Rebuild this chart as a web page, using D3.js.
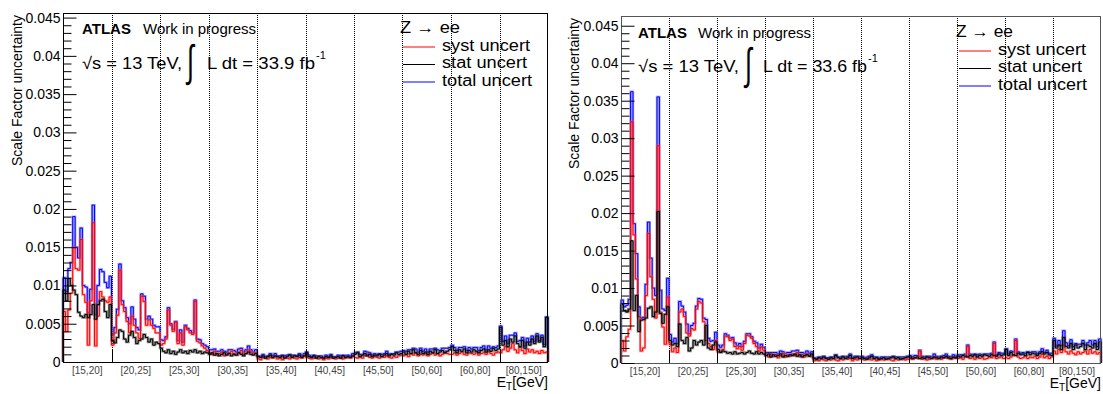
<!DOCTYPE html>
<html><head><meta charset="utf-8">
<script src="https://cdn.jsdelivr.net/npm/d3@7"></script>
<style>
body{margin:0;background:#fff}
svg{display:block}
text{font-family:"Liberation Sans",Arial,Helvetica,sans-serif}
</style>
</head><body>
<svg id="c" width="1103" height="394"></svg>
<script>
// ---------------- DATA ----------------
const UNIT = 1e-4; // values below are in units of 1e-4
const etBins = ["[15,20]","[20,25]","[25,30]","[30,35]","[35,40]","[40,45]","[45,50]","[50,60]","[60,80]","[80,150]"];
const etaBinsPerEt = 20;
const yTicks = [0,0.005,0.01,0.015,0.02,0.025,0.03,0.035,0.04,0.045];
const yTickLabels = ["0","0.005","0.01","0.015","0.02","0.025","0.03","0.035","0.04","0.045"];
const legendLabels = ["syst uncert","stat uncert","total uncert"];
const lumis = ["33.9","33.6"];

const leftSyst = [
 66,40,68,90,150,122,120,160,88,78,22,80,182,21,60,92,85,80,78,85,
 22,38,61,120,75,66,53,38,60,48,38,31,86,79,48,55,48,44,38,38,
 22,24,30,68,48,40,52,24,38,22,46,42,38,36,79,27,25,21,18,15,
 12,10,14,9,11,13,8,10,12,14,11,9,12,15,10,11,16,13,10,12,
 4,3,6,5,4,6,5,7,4,5,3,6,5,4,7,5,4,6,5,8,
 6,5,4,5,6,4,5,3,5,4,6,5,4,5,6,4,5,6,5,7,
 6,5,7,5,8,10,6,5,7,6,5,7,6,8,6,5,7,6,8,9,
 8,10,7,11,9,12,8,10,9,11,8,10,12,9,11,8,10,13,11,10,
 10,12,9,11,13,10,9,12,11,10,13,9,11,12,10,14,11,9,12,13,
 12,16,20,14,18,24,16,12,19,15,11,17,13,16,12,14,11,15,12,13];
const leftStat = [
 94,80,109,100,94,88,65,60,58,62,58,62,75,56,75,80,82,66,58,75,
 28,25,32,42,40,30,26,35,40,32,24,28,30,36,32,26,30,22,26,24,
 18,14,12,16,11,14,10,13,16,12,14,11,15,13,16,12,14,11,13,12,
 10,12,9,11,8,10,12,9,11,8,10,9,12,10,8,11,13,10,9,11,
 7,6,8,5,7,9,6,8,7,6,8,5,7,9,6,8,7,9,6,8,
 12,7,6,8,5,7,6,5,7,6,8,5,6,7,5,8,6,7,6,8,
 10,12,7,9,11,8,10,7,9,8,10,7,9,11,8,10,9,12,10,11,
 13,10,14,11,16,12,10,15,11,13,10,14,12,16,11,13,15,12,14,16,
 20,15,12,16,14,17,12,15,13,16,14,12,15,17,13,16,14,18,15,17,
 45,22,28,20,30,26,34,24,20,28,18,26,22,30,24,34,26,32,20,58];
const leftTotal = [
 110,92,122,130,190,150,136,175,100,98,65,95,205,62,100,121,118,104,97,112,
 36,45,69,128,80,71,58,50,72,56,45,42,89,86,56,60,56,48,46,46,
 29,28,33,71,50,43,53,28,42,26,48,44,41,38,81,30,29,24,22,20,
 16,16,17,14,14,16,14,13,16,16,15,13,17,18,13,16,21,16,13,16,
 8,7,10,7,8,11,8,11,8,8,9,8,9,10,9,9,8,11,8,11,
 13,9,7,9,8,8,8,6,9,7,10,7,7,9,8,9,8,9,8,11,
 12,13,10,10,14,13,12,9,11,10,11,10,11,14,10,11,11,13,13,14,
 15,14,16,16,18,17,13,18,14,17,13,17,17,18,16,15,18,18,18,19,
 22,19,15,19,19,20,15,19,17,19,19,15,19,21,16,21,18,20,19,21,
 47,27,34,24,35,35,38,27,28,32,21,31,26,34,27,37,28,35,23,59];

const rightSyst = [
 30,16,35,45,322,171,112,62,16,20,90,173,115,85,60,290,68,48,25,88,
 25,15,20,14,68,72,62,40,36,46,44,72,82,80,55,30,26,22,18,30,
 15,15,18,36,35,30,32,22,19,22,17,26,37,36,33,26,22,16,21,17,
 10,8,12,9,11,7,10,13,8,11,9,12,10,14,9,11,8,12,10,9,
 3,4,3,5,4,3,5,4,6,4,3,5,4,6,5,6,3,5,4,6,
 5,4,6,5,4,5,3,4,5,4,6,5,4,3,5,4,6,5,4,5,
 6,5,7,6,16,5,6,4,5,6,8,5,6,5,7,8,6,5,7,6,
 6,7,5,8,22,6,7,5,8,6,7,5,6,8,7,26,6,7,8,6,
 7,6,8,10,30,8,6,7,9,6,8,7,9,6,8,12,7,9,6,8,
 16,12,18,14,24,15,12,16,13,11,15,12,14,16,12,18,13,15,12,14];
const rightStat = [
 78,70,68,72,163,70,90,42,57,58,60,73,75,62,68,202,66,53,65,75,
 30,24,26,22,52,30,26,34,16,20,30,24,28,30,24,50,20,18,24,28,
 18,14,16,15,13,14,12,15,12,13,14,12,14,16,13,12,15,12,14,12,
 10,12,8,11,9,10,12,8,10,9,11,10,12,9,11,8,10,11,9,12,
 6,5,7,6,8,6,5,7,6,10,7,6,8,6,7,10,6,7,8,6,
 7,6,5,7,9,6,7,5,6,7,5,6,7,8,6,7,5,6,7,8,
 8,6,7,8,6,7,6,8,7,6,8,7,6,8,7,9,7,6,8,7,
 9,8,10,9,8,10,9,11,8,10,9,11,10,9,11,10,9,12,10,11,
 18,10,14,11,10,13,11,12,10,14,11,13,12,10,13,15,12,14,11,10,
 30,20,24,18,34,22,20,26,18,24,20,22,26,18,24,22,20,26,18,28];
const rightTotal = [
 84,75,77,85,362,186,146,75,60,61,105,188,140,100,90,355,97,72,70,113,
 38,28,33,26,82,76,68,52,39,50,53,76,86,85,60,58,33,29,30,41,
 24,21,24,39,37,33,34,27,23,26,22,29,39,39,35,29,27,20,25,21,
 14,14,14,14,14,12,16,15,13,14,14,16,16,17,14,14,13,16,13,15,
 7,6,8,8,9,7,7,8,8,11,8,8,9,8,9,12,7,9,9,8,
 9,7,8,9,11,8,8,6,8,8,8,8,8,9,8,8,8,8,8,9,
 10,8,10,10,17,9,8,9,9,8,12,9,8,9,10,12,9,8,11,9,
 11,11,11,12,24,12,11,12,11,12,11,12,12,12,13,28,11,14,13,13,
 19,12,16,15,32,15,13,14,13,15,14,15,15,12,15,19,14,17,13,13,
 33,23,30,23,43,27,23,31,22,26,25,25,30,24,27,30,24,30,22,32];

// ---------------- DRAW ----------------
const svg = d3.select("#c");

function drawPanel(c){
  const n = c.syst.length;
  const x = d3.scaleLinear().domain([0, n]).range([c.x0, c.x1]);
  const y = d3.scaleLinear().domain([0, c.yMax]).range([c.yB, c.yT]);
  const g = svg.append("g");
  const bounds = d3.range(1, etBins.length).map(k => k * etaBinsPerEt);

  // dotted separators
  g.selectAll("line.sep").data(bounds).join("line")
    .attr("x1", d => Math.round(x(d)) + 0.5).attr("x2", d => Math.round(x(d)) + 0.5)
    .attr("y1", c.yT).attr("y2", c.yB)
    .attr("stroke", "#000").attr("stroke-width", 1).attr("stroke-dasharray", "1,1");

  // histograms
  const step = vals => {
    const pts = [[0, 0]];
    vals.forEach((v, i) => pts.push([i, v * UNIT]));
    pts.push([n, vals[n - 1] * UNIT]);
    pts.push([n, 0]);
    return d3.line().x(p => x(p[0])).y(p => y(p[1])).curve(d3.curveStepAfter)(pts);
  };
  const series = [
    {vals: c.total, col: "#0000ff", under: "#4d4dff"},
    {vals: c.syst,  col: "#ff0000", under: "#ff4d4d"},
    {vals: c.stat,  col: "#000000", under: "#333333"}
  ];
  series.forEach(s => {
    g.append("path").attr("d", step(s.vals)).attr("fill", "none")
      .attr("stroke", s.under).attr("stroke-width", 2.4).attr("stroke-opacity", 0.55);
    g.append("path").attr("d", step(s.vals)).attr("fill", "none")
      .attr("stroke", s.col).attr("stroke-width", 1);
  });

  // frame
  g.append("rect").attr("x", c.x0 + 0.5).attr("y", c.yT + 0.5)
    .attr("width", c.x1 - c.x0 - 1).attr("height", c.yB - c.yT)
    .attr("fill", "none").attr("stroke", c.frame).attr("stroke-width", 1)
    .attr("shape-rendering", "crispEdges");

  // x ticks at ET group boundaries
  g.selectAll("line.xt").data(bounds).join("line")
    .attr("x1", d => Math.round(x(d)) + 0.5).attr("x2", d => Math.round(x(d)) + 0.5)
    .attr("y1", c.yB).attr("y2", c.yB - 13)
    .attr("stroke", "#000").attr("stroke-width", 1);

  // x labels
  g.selectAll("text.xl").data(etBins).join("text")
    .attr("x", (d, i) => x((i + 0.5) * etaBinsPerEt)).attr("y", c.yB + 12)
    .attr("text-anchor", "middle").attr("font-size", 10).attr("fill", "#444")
    .text(d => d);

  // y axis major/minor
  const minor = d3.range(0, 46).filter(k => k % 5 !== 0).map(k => k * 0.001);
  const ax = g.append("g").attr("transform", `translate(${c.x0 + 0.5},0)`)
    .call(d3.axisLeft(y).tickValues(yTicks).tickFormat((d, i) => yTickLabels[i]).tickSize(-13).tickPadding(3));
  ax.select(".domain").remove();
  ax.selectAll("text").attr("font-size", 14).attr("font-family", "Liberation Sans, Arial, sans-serif").attr("fill", "#000");
  const axm = g.append("g").attr("transform", `translate(${c.x0 + 0.5},0)`)
    .call(d3.axisLeft(y).tickValues(minor).tickFormat("").tickSize(-8));
  axm.select(".domain").remove();

  // y title
  g.append("text").attr("transform", `translate(${c.ytX},${c.yT + 2}) rotate(-90)`)
    .attr("text-anchor", "end").attr("font-size", 14).text("Scale Factor uncertainty");

  // x title
  const xt = g.append("text").attr("x", c.x1).attr("y", c.yB + 25).attr("text-anchor", "end").attr("font-size", 14);
  xt.append("tspan").text("E");
  xt.append("tspan").attr("font-size", 10).attr("dy", 3).text("T");
  xt.append("tspan").attr("dy", -3).text("[GeV]");

  // ATLAS label
  g.append("text").attr("x", c.ax).attr("y", c.ay).attr("font-size", 15).attr("font-weight", "bold").text("ATLAS");
  g.append("text").attr("x", c.ax + c.workDx).attr("y", c.ay).attr("font-size", 15).text("Work in progress");

  // sqrt(s), integral L dt
  g.append("text").attr("x", c.ax).attr("y", c.ly).attr("font-size", 17)
    .attr("textLength", c.t1w).attr("lengthAdjust", "spacingAndGlyphs").text("√s = 13 TeV,");
  g.append("text").attr("transform", `translate(${c.intX},${c.ly + 7}) scale(0.6,1.05)`)
    .attr("font-size", 42).attr("font-family", "Liberation Sans").text("∫");
  g.append("text").attr("x", c.t2x).attr("y", c.ly).attr("font-size", 17)
    .attr("textLength", c.t2w).attr("lengthAdjust", "spacingAndGlyphs").text(`L dt = ${c.lumi} fb`);
  g.append("text").attr("x", c.t2x + c.t2w + 1).attr("y", c.ly - 10).attr("font-size", 11).text("-1");

  // legend
  g.append("text").attr("x", c.legX).attr("y", c.legY).attr("font-size", 16)
    .attr("textLength", c.zw).attr("lengthAdjust", "spacingAndGlyphs").text("Z → ee");
  const cols = ["#ff0000", "#000000", "#0000ff"];
  legendLabels.forEach((lab, i) => {
    const by = c.legY + 17.5 * (i + 1);
    g.append("line").attr("x1", c.legX + 3).attr("x2", c.legX + 35)
      .attr("y1", by - 3.5).attr("y2", by - 3.5).attr("stroke", cols[i]).attr("stroke-width", 1);
    g.append("text").attr("x", c.legX + 42).attr("y", by).attr("font-size", 16)
      .attr("textLength", c.lw[i]).attr("lengthAdjust", "spacingAndGlyphs").text(lab);
  });
}

drawPanel({
  syst: leftSyst, stat: leftStat, total: leftTotal, lumi: lumis[0],
  x0: 63, x1: 548, yT: 13, yB: 362, yMax: 0.0456, frame: "#000",
  ytX: 22, ax: 82, ay: 34, workDx: 61, ly: 69, t1w: 100, intX: 187, t2x: 207, t2w: 108,
  legX: 400, legY: 33, zw: 60, lw: [88, 85, 90]
});
drawPanel({
  syst: rightSyst, stat: rightStat, total: rightTotal, lumi: lumis[1],
  x0: 621, x1: 1101, yT: 16, yB: 363, yMax: 0.0463, frame: "#555",
  ytX: 579, ax: 638, ay: 38, workDx: 60, ly: 72, t1w: 101, intX: 745, t2x: 763, t2w: 104,
  legX: 956, legY: 37, zw: 57, lw: [88, 84, 89]
});
</script>
</body></html>
